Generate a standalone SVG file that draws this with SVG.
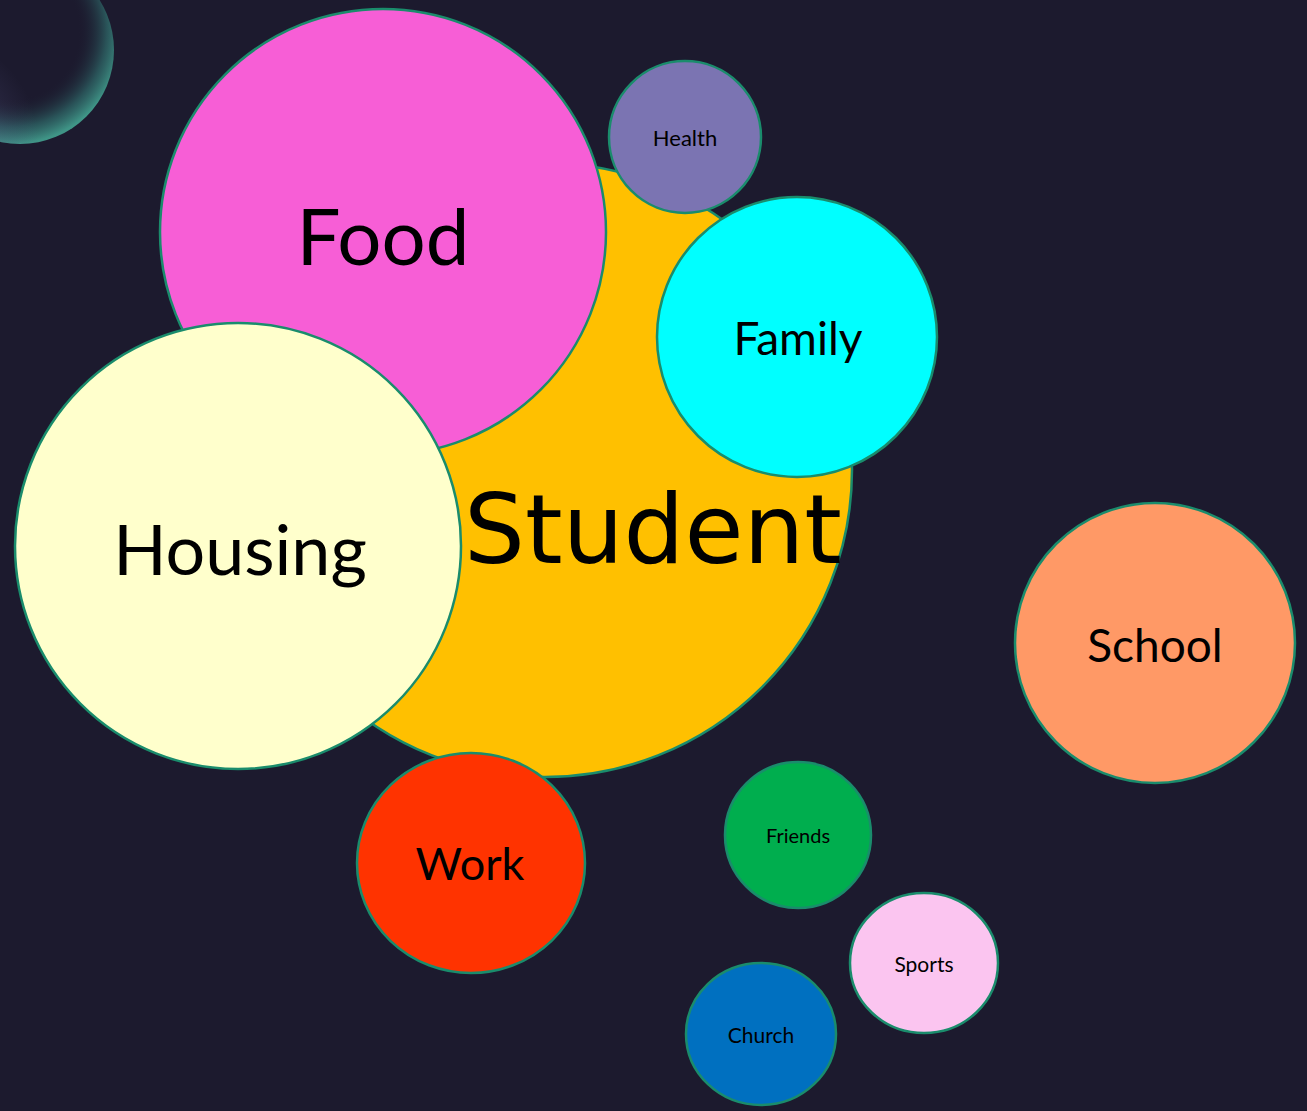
<svg xmlns="http://www.w3.org/2000/svg" width="1307" height="1111" viewBox="0 0 1307 1111">
<style>
.n{stroke:#1a8c6c;stroke-width:2.5}
.t{font-family:Lato,"Open Sans","Liberation Sans",sans-serif;fill:#000;text-anchor:middle}
</style>
<defs>
<radialGradient id="glow" cx="0.45" cy="0.4" r="0.6">
<stop offset="0" stop-color="#1c1a2e" stop-opacity="0"/>
<stop offset="0.6" stop-color="#1c1a2e" stop-opacity="0"/>
<stop offset="0.85" stop-color="#2f6b6a" stop-opacity="0.7"/>
<stop offset="1" stop-color="#3f9486"/>
</radialGradient>
<radialGradient id="glow2" cx="0" cy="1" r="0.6">
<stop offset="0" stop-color="#5a5a8a" stop-opacity="0.6"/>
<stop offset="1" stop-color="#5a5a8a" stop-opacity="0"/>
</radialGradient>
</defs>
<rect width="1307" height="1111" fill="#1c1a2e"/>
<g id="glow-bubble">
<circle cx="20" cy="50" r="94" fill="url(#glow)"/>
<circle cx="20" cy="50" r="94" fill="url(#glow2)"/>
</g>
<g id="connectors"></g>
<g id="student">
<circle class="n" cx="545" cy="470" r="307" fill="#ffc000"/>
<text x="653" y="563" font-family="'DejaVu Sans',sans-serif" font-size="96" text-anchor="middle" fill="#000">Student</text>
</g>
<g id="food">
<circle class="n" cx="383" cy="232" r="223" fill="#f75ed6"/>
<text class="t" x="383" y="265" font-size="78">Food</text>
</g>
<g id="housing">
<circle class="n" cx="238" cy="546" r="223" fill="#ffffcc"/>
<text class="t" x="240" y="575" font-size="70">Housing</text>
</g>
<g id="health">
<circle class="n" cx="685" cy="137" r="76" fill="#7b74b2"/>
<text class="t" x="685" y="146" font-size="22">Health</text>
</g>
<g id="family">
<circle class="n" cx="797" cy="337" r="140" fill="#00ffff"/>
<text class="t" x="798" y="355" font-size="46">Family</text>
</g>
<g id="school">
<circle class="n" cx="1155" cy="643" r="140" fill="#ff9966"/>
<text class="t" x="1155" y="662" font-size="46">School</text>
</g>
<g id="work">
<ellipse class="n" cx="471" cy="863" rx="114" ry="110" fill="#ff3300"/>
<text class="t" x="470" y="880" font-size="45">Work</text>
</g>
<g id="friends">
<circle class="n" cx="798" cy="835" r="73" fill="#00ae4e"/>
<text class="t" x="798" y="843" font-size="20">Friends</text>
</g>
<g id="sports">
<ellipse class="n" cx="924" cy="963" rx="74" ry="70" fill="#fbc5f0"/>
<text class="t" x="924" y="972" font-size="21">Sports</text>
</g>
<g id="church">
<ellipse class="n" cx="761" cy="1034" rx="75" ry="71" fill="#0070c0"/>
<text class="t" x="761" y="1043" font-size="21">Church</text>
</g>
</svg>
